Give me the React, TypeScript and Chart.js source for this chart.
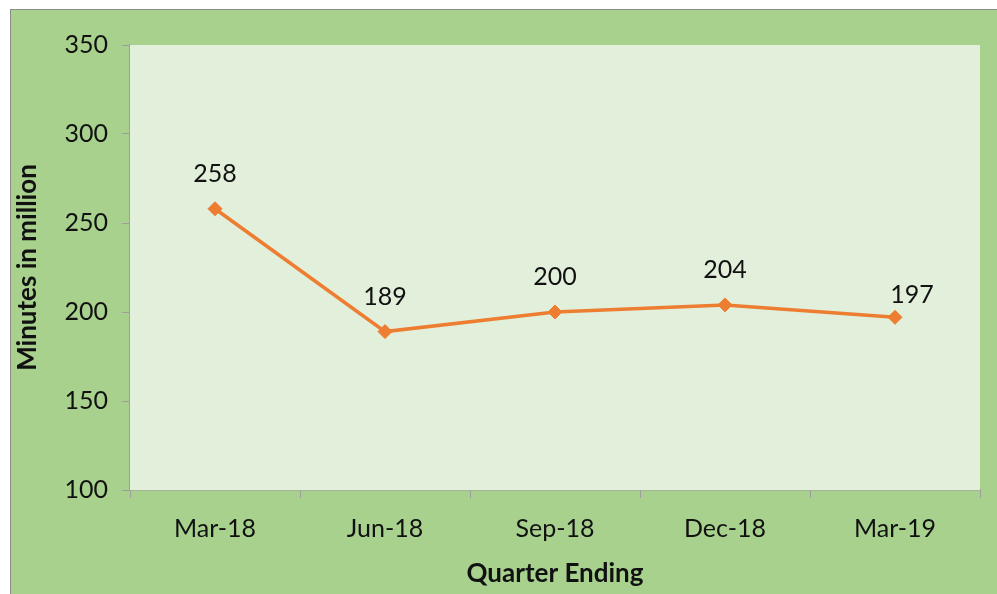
import React, { useEffect, useRef } from "react";
import { Chart, registerables } from "chart.js";

Chart.register(...registerables);

const categories = ["Mar-18", "Jun-18", "Sep-18", "Dec-18", "Mar-19"];
const minutes = [258, 189, 200, 204, 197];
const yMin = 100;
const yMax = 350;
const yStep = 50;

const FONT = "Lato, 'Open Sans', sans-serif";

const plotBg = {
  id: "plotBg",
  beforeDatasetsDraw(chart: any) {
    const { ctx, chartArea } = chart;
    ctx.save();
    ctx.fillStyle = "#e2efda";
    ctx.fillRect(chartArea.left, chartArea.top, chartArea.right - chartArea.left, chartArea.bottom - chartArea.top);
    ctx.restore();
  },
  beforeDraw(chart: any) {
    const { ctx, width, height } = chart;
    ctx.save();
    ctx.fillStyle = "#a9d18e";
    ctx.fillRect(0, 0, width, height);
    ctx.restore();
  },
};

const valueLabels = {
  id: "valueLabels",
  afterDatasetsDraw(chart: any) {
    const { ctx } = chart;
    const meta = chart.getDatasetMeta(0);
    const n = meta.data.length;
    ctx.save();
    ctx.font = `25px ${FONT}`;
    ctx.fillStyle = "#111";
    ctx.textAlign = "center";
    ctx.textBaseline = "alphabetic";
    meta.data.forEach((pt: any, i: number) => {
      // the last label sits a little right and lower in the original
      const last = i === n - 1;
      const dx = last ? 17 : 0;
      const dy = last ? 13 : 0;
      ctx.fillText(String(minutes[i]), pt.x + dx, pt.y - 27 + dy);
    });
    ctx.restore();
  },
};

export default function App() {
  const ref = useRef<HTMLCanvasElement>(null);
  useEffect(() => {
    if (!ref.current) return;
    const chart = new Chart(ref.current, {
      type: "line",
      data: {
        labels: categories,
        datasets: [
          {
            data: minutes,
            borderColor: "#ed7d31",
            backgroundColor: "#ed7d31",
            borderWidth: 3.5,
            pointStyle: "rectRot",
            pointRadius: 7,
            pointBorderWidth: 1,
            tension: 0,
          },
        ],
      },
      options: {
        responsive: false,
        animation: false,
        layout: { padding: { left: 0, top: 35, right: 17, bottom: 0 } },
        plugins: { legend: { display: false }, tooltip: { enabled: false } },
        scales: {
          x: {
            offset: true,
            grid: {
              offset: true,
              drawOnChartArea: false,
              drawTicks: true,
              tickLength: 8,
              color: "#9e9e9e",
            },
            border: { color: "#9e9e9e", width: 1.5 },
            ticks: { color: "#111", font: { family: FONT, size: 25 }, padding: 16, maxRotation: 0 },
            title: {
              display: true,
              text: "Quarter Ending",
              color: "#111",
              font: { family: FONT, size: 26, weight: "bold" },
              padding: { top: 0, bottom: 5 },
            },
            afterFit(scale: any) {
              scale.height = 104;
            },
          },
          y: {
            min: yMin,
            max: yMax,
            ticks: { stepSize: yStep, color: "#111", font: { family: FONT, size: 25 }, padding: 14 },
            grid: {
              drawOnChartArea: false,
              drawTicks: true,
              tickLength: 8,
              color: "#9e9e9e",
            },
            border: { color: "#9e9e9e", width: 1.5 },
            title: {
              display: true,
              text: "Minutes in million",
              color: "#111",
              font: { family: FONT, size: 26, weight: "bold" },
              padding: { top: 1, bottom: 0 },
            },
            afterFit(scale: any) {
              scale.width = 119;
            },
          },
        },
      },
      plugins: [plotBg, valueLabels],
    });
    return () => chart.destroy();
  }, []);
  return (
    <div
      style={{
        position: "fixed",
        left: 10,
        top: 9,
        width: 987,
        height: 585,
        boxSizing: "border-box",
        borderLeft: "1px solid #8c8c8c",
        borderTop: "1px solid #8c8c8c",
        background: "#a9d18e",
      }}
    >
      <canvas ref={ref} width={986} height={584} style={{ display: "block" }} />
    </div>
  );
}
